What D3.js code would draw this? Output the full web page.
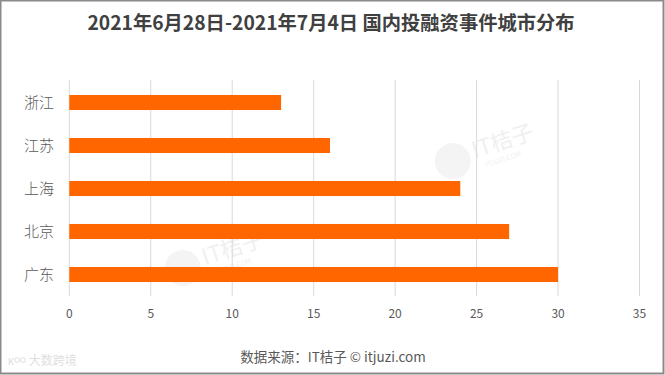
<!DOCTYPE html>
<html>
<head>
<meta charset="utf-8">
<script src="https://cdn.jsdelivr.net/npm/d3@7"></script>
<style>
  body { margin: 0; background: #fff; }
  svg { display: block; }
</style>
</head>
<body>
<script>
// chart data
const cities = ["浙江", "江苏", "上海", "北京", "广东"];
const counts = [13, 16, 24, 27, 30];
const xTicks = [0, 5, 10, 15, 20, 25, 30, 35];
const titleText = "2021年6月28日-2021年7月4日 国内投融资事件城市分布";
const sourceText = "数据来源：IT桔子 © itjuzi.com";

// layout
const width = 665;
const height = 375;
const font = "'Noto Sans CJK SC', 'Open Sans', sans-serif";

const svg = d3.select("body").append("svg")
  .attr("width", width)
  .attr("height", height);

svg.append("rect")
  .attr("x", 0.5).attr("y", 0.5)
  .attr("width", width - 2).attr("height", height - 2)
  .attr("fill", "#fff")
  .attr("stroke", "#8a8a8a")
  .attr("stroke-width", 2);

const xScale = d3.scaleLinear().domain([0, 35]).range([69.3, 639.5]);
const yScale = d3.scaleBand().domain(cities).range([81, 296])
  .paddingInner(0.65).paddingOuter(0.325);

// faint watermarks
function watermark(cx, cy) {
  const g = svg.append("g").attr("transform", "translate(" + cx + "," + cy + ") rotate(-18)");
  g.append("circle").attr("cx", -30).attr("cy", 4).attr("r", 18).attr("fill", "#f4f4f4");
  g.append("text").attr("x", -8).attr("y", 8)
    .attr("font-family", font).attr("font-size", 22).attr("fill", "#f0f0f0")
    .text("IT桔子");
  g.append("text").attr("x", 0).attr("y", 20)
    .attr("font-family", font).attr("font-size", 7).attr("fill", "#f0f0f0")
    .text("ITJUZI.COM");
}
watermark(480, 148);
watermark(210, 255);

// grid lines
svg.append("g")
  .selectAll("line")
  .data(xTicks)
  .enter()
  .append("line")
  .attr("x1", function(d) { return xScale(d); })
  .attr("x2", function(d) { return xScale(d); })
  .attr("y1", 80)
  .attr("y2", 296)
  .attr("stroke", "#d9d9d9")
  .attr("stroke-width", 1);

// bars
svg.append("g")
  .selectAll("rect")
  .data(cities)
  .enter()
  .append("rect")
  .attr("x", xScale(0))
  .attr("y", function(d) { return yScale(d); })
  .attr("width", function(d, i) { return xScale(counts[i]) - xScale(0); })
  .attr("height", yScale.bandwidth())
  .attr("fill", "#ff6600");

// category labels
svg.append("g")
  .selectAll("text")
  .data(cities)
  .enter()
  .append("text")
  .attr("x", 54)
  .attr("y", function(d) { return yScale(d) + yScale.bandwidth() / 2; })
  .attr("dy", "0.35em")
  .attr("text-anchor", "end")
  .attr("font-family", font)
  .attr("font-size", 15)
  .attr("font-weight", 300)
  .attr("fill", "#595959")
  .text(function(d) { return d; });

// x tick labels
svg.append("g")
  .selectAll("text")
  .data(xTicks)
  .enter()
  .append("text")
  .attr("x", function(d) { return xScale(d); })
  .attr("y", 318)
  .attr("text-anchor", "middle")
  .attr("font-family", font)
  .attr("font-size", 12)
  .attr("fill", "#595959")
  .text(function(d) { return d; });

// title
svg.append("text")
  .attr("x", 331)
  .attr("y", 30)
  .attr("text-anchor", "middle")
  .attr("font-family", font)
  .attr("font-size", 19.3)
  .attr("font-weight", "bold")
  .attr("fill", "#404040")
  .text(titleText);

// source note
svg.append("text")
  .attr("x", 333)
  .attr("y", 362)
  .attr("text-anchor", "middle")
  .attr("font-family", font)
  .attr("font-size", 13.5)
  .attr("fill", "#595959")
  .text(sourceText);

// bottom-left logo
svg.append("text")
  .attr("x", 8)
  .attr("y", 365)
  .attr("font-family", font)
  .attr("font-size", 12)
  .attr("fill", "#e0e0e0")
  .text("ᴋ∞ 大数跨境");
</script>
</body>
</html>
